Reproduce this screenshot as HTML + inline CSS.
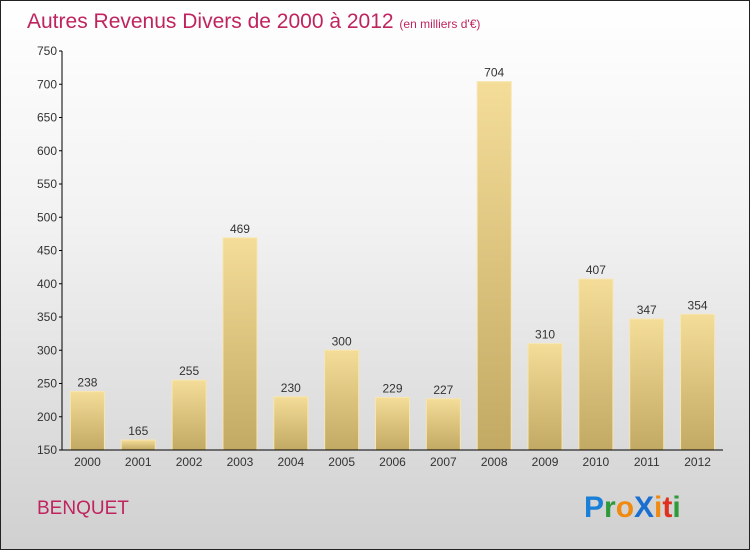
<!DOCTYPE html>
<html><head><meta charset="utf-8"><style>
body{margin:0}
#c{width:748px;height:548px;border:1px solid #222;position:relative;background:linear-gradient(#ffffff,#f2f2f2 40%,#d0d0d0);font-family:"Liberation Sans",sans-serif;overflow:hidden}
</style></head><body>
<div id="c">
<svg id="s" width="748" height="548" style="position:absolute;left:0;top:0">
<defs>
<linearGradient id="bg" x1="0" y1="0" x2="0" y2="1"><stop offset="0" stop-color="#f4dd98"/><stop offset="1" stop-color="#c2a964"/></linearGradient>
</defs>
<text x="26" y="27" font-size="21" fill="#c0245f">Autres Revenus Divers de 2000 à 2012 <tspan font-size="12">(en milliers d'€)</tspan></text>
<text x="36" y="513" font-size="19" fill="#c0245f">BENQUET</text>
<g font-size="30" font-weight="bold" font-family="Liberation Sans, sans-serif">
<text x="583" y="516"><tspan fill="#1a7fd6">P</tspan><tspan fill="#2e9a3a">r</tspan><tspan fill="#f08a10">o</tspan><tspan fill="#1a6fd0">X</tspan><tspan fill="#f08a10">i</tspan><tspan fill="#e0301e">t</tspan><tspan fill="#2e9a3a">i</tspan></text>
</g>
</svg>
</div>
<script>
const categories=["2000","2001","2002","2003","2004","2005","2006","2007","2008","2009","2010","2011","2012"];
const values=[238,165,255,469,230,300,229,227,704,310,407,347,354];
const ticks=[150,200,250,300,350,400,450,500,550,600,650,700,750];
const s=document.getElementById('s');const NS='http://www.w3.org/2000/svg';
const x0=61,x1=722,yTop=50,yBot=449,vMin=150,vMax=750;
const y=v=>yBot-(v-vMin)/(vMax-vMin)*(yBot-yTop);
const step=(x1-x0)/categories.length;
const xc=i=>x0+step*(i+0.5);
function mk(t,a){const e=document.createElementNS(NS,t);for(const k in a)e.setAttribute(k,a[k]);s.appendChild(e);return e;}
values.forEach((v,i)=>{
 const r=mk('rect',{x:xc(i)-17,y:y(v),width:34,height:yBot-y(v),fill:'url(#bg)',stroke:'#f7e6b0','stroke-width':1});
 
 
 const t=mk('text',{x:xc(i),y:y(v)-5,'font-size':12,fill:'#333','text-anchor':'middle'});t.textContent=v;
 
 
 const c=mk('text',{x:xc(i),y:yBot+16,'font-size':12,fill:'#333','text-anchor':'middle'});c.textContent=categories[i];
 
 
});
ticks.forEach(v=>{
 mk('line',{x1:x0-3,x2:x0,y1:y(v),y2:y(v),stroke:'#000'});
 const t=mk('text',{x:x0-5,y:y(v)+4,'font-size':12,fill:'#333','text-anchor':'end'});t.textContent=v;
 
 
});
const ya=mk('line',{x1:x0,x2:x0,y1:yTop,y2:yBot,stroke:'#000'});


const xa=mk('line',{x1:x0,x2:x1,y1:yBot,y2:yBot,stroke:'#000'});


</script>
</body></html>
